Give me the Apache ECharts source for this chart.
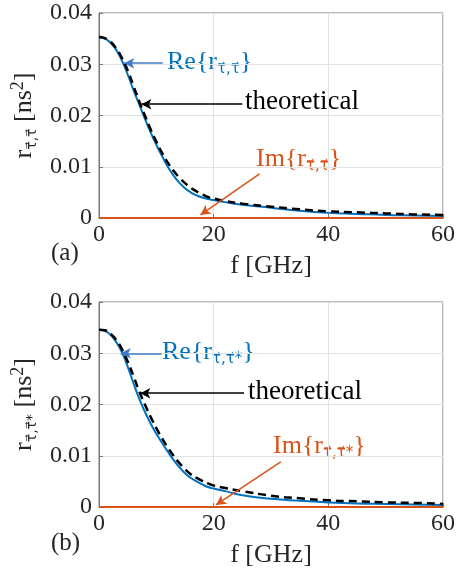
<!DOCTYPE html>
<html>
<head>
<meta charset="utf-8">
<script src="https://cdn.jsdelivr.net/npm/echarts@6/dist/echarts.min.js"></script>
<style>
  html, body { margin: 0; padding: 0; background: #fff; }
  #chart { width: 458px; height: 574px; }
</style>
</head>
<body>
<div id="chart"></div>
<script>
// frequency axis samples [GHz]
const freqs = [0, 1, 2, 3, 4, 5, 6, 7, 8, 9, 10, 11, 12, 13, 14, 15, 16, 17, 18, 19, 20, 22, 25, 30, 35, 40, 45, 50, 55, 60];

// panel (a)
const reA = [0.0352, 0.0350, 0.0342, 0.0328, 0.0307, 0.0280, 0.0250, 0.0222, 0.0194, 0.0167, 0.0143, 0.0121, 0.0100, 0.0083, 0.0069, 0.0058, 0.0050, 0.0044, 0.0040, 0.0037, 0.0035, 0.0031, 0.0026, 0.0020, 0.0014, 0.0010, 0.0008, 0.0006, 0.0005, 0.0004];
const theoA = [0.0353, 0.0351, 0.0344, 0.0331, 0.0312, 0.0288, 0.0258, 0.0228, 0.0200, 0.0173, 0.0149, 0.0127, 0.0108, 0.0092, 0.0079, 0.0068, 0.0059, 0.0052, 0.0046, 0.0041, 0.0038, 0.0033, 0.0028, 0.0022, 0.0017, 0.0013, 0.0011, 0.0009, 0.0007, 0.0006];
const imA = [0, 0, 0, 0, 0, 0, 0, 0, 0, 0, 0, 0, 0, 0, 0, 0, 0, 0, 0, 0, 0, 0, 0, 0, 0, 0, 0, 0, 0, 0];

// panel (b)
const reB = [0.0346, 0.0344, 0.0336, 0.0322, 0.0302, 0.0274, 0.0242, 0.0212, 0.0186, 0.0163, 0.0143, 0.0125, 0.0108, 0.0092, 0.0078, 0.0066, 0.0057, 0.0050, 0.0044, 0.0039, 0.0036, 0.0031, 0.0023, 0.0016, 0.0012, 0.0009, 0.0007, 0.0006, 0.0005, 0.0004];
const theoB = [0.0346, 0.0345, 0.0338, 0.0326, 0.0308, 0.0284, 0.0256, 0.0226, 0.0200, 0.0176, 0.0154, 0.0134, 0.0116, 0.0100, 0.0086, 0.0074, 0.0064, 0.0057, 0.0051, 0.0046, 0.0042, 0.0037, 0.0031, 0.0022, 0.0017, 0.0013, 0.0011, 0.0009, 0.0008, 0.0006];
const imB = [0, 0, 0, 0, 0, 0, 0, 0, 0, 0, 0, 0, 0, 0, 0, 0, 0, 0, 0, 0, 0, 0, 0, 0, 0, 0, 0, 0, 0, 0];

const xTicks = { min: 0, max: 60, interval: 20 };
const yTicks = { min: 0, max: 0.04, interval: 0.01 };

const FONT = "'Liberation Serif', 'Times New Roman', serif";
const SUBFONT = "'DejaVu Sans', sans-serif";
const BLUE = "#0072BD";
const ORANGE = "#D95319";
const TAU = "\u03c4\u20d7";

const pairs = (ys) => freqs.map((f, i) => [f, ys[i]]);

function xAxisFor(idx) {
  return {
    gridIndex: idx, type: "value", ...xTicks,
    name: "f [GHz]", nameLocation: "middle", nameGap: 35,
    nameTextStyle: { fontFamily: FONT, fontSize: 26, color: "#262626" },
    axisLine: { lineStyle: { color: "#777" } },
    axisTick: { inside: true, length: 4, lineStyle: { color: "#777" } },
    axisLabel: { fontFamily: FONT, fontSize: 24, color: "#262626", margin: 5 },
    splitLine: { show: true, lineStyle: { color: "#e3e3e3" } }
  };
}

function yAxisFor(idx, sub) {
  return {
    gridIndex: idx, type: "value", ...yTicks,
    name: "r{s|" + sub + "} [ns{p|2}]", nameLocation: "middle", nameGap: 58, nameRotate: 90,
    nameTextStyle: {
      fontFamily: FONT, fontSize: 26, color: "#262626", lineHeight: 30,
      rich: {
        s: { fontFamily: SUBFONT, fontSize: 14, color: "#262626", lineHeight: 14, verticalAlign: "bottom" },
        p: { fontFamily: FONT, fontSize: 18, color: "#262626", lineHeight: 14, verticalAlign: "top" }
      }
    },
    axisLine: { show: true, lineStyle: { color: "#777" } },
    axisTick: { show: true, inside: true, length: 4, lineStyle: { color: "#777" } },
    axisLabel: { fontFamily: FONT, fontSize: 24, color: "#262626", margin: 7 },
    splitLine: { show: true, lineStyle: { color: "#e3e3e3" } }
  };
}

function arrow(color, from, to) {
  return {
    silent: true, animation: false,
    symbol: ["none", "arrow"], symbolSize: [8, 10],
    lineStyle: { color: color, width: 1.5, type: "solid" },
    label: { show: false },
    data: [[{ coord: from }, { coord: to }]]
  };
}

function panelSeries(idx, re, theo, im, arrows) {
  return [
    { type: "line", xAxisIndex: idx, yAxisIndex: idx, data: pairs(re), smooth: true, showSymbol: false,
      lineStyle: { color: BLUE, width: 2 }, itemStyle: { color: BLUE }, z: 2,
      markLine: arrow("#3f78c9", arrows.re[0], arrows.re[1]) },
    { type: "line", xAxisIndex: idx, yAxisIndex: idx, data: pairs(theo), smooth: true, showSymbol: false,
      lineStyle: { color: "#000", width: 2.5, type: [8, 5] }, itemStyle: { color: "#000" }, z: 3,
      markLine: arrow("#000", arrows.th[0], arrows.th[1]) },
    { type: "line", xAxisIndex: idx, yAxisIndex: idx, data: pairs(im), showSymbol: false,
      lineStyle: { color: ORANGE, width: 2 }, itemStyle: { color: ORANGE }, z: 4,
      markLine: arrow(ORANGE, arrows.im[0], arrows.im[1]) }
  ];
}

function label(left, top, text, color) {
  return {
    type: "text", left: left, top: top,
    style: {
      text: text, fill: color, font: "26px " + FONT, lineHeight: 30,
      rich: { s: { fontFamily: SUBFONT, fontSize: 15, fill: color, lineHeight: 15, verticalAlign: "bottom" } }
    }
  };
}

const chartDom = document.getElementById("chart");
const myChart = echarts.init(chartDom);

const option = {
  animation: false,
  grid: [
    { left: 99, top: 13, width: 345, height: 205, show: true, borderColor: "#777", borderWidth: 1 },
    { left: 99, top: 302, width: 346, height: 205, show: true, borderColor: "#777", borderWidth: 1 }
  ],
  xAxis: [xAxisFor(0), xAxisFor(1)],
  yAxis: [yAxisFor(0, TAU + "," + TAU), yAxisFor(1, TAU + "," + TAU + "*")],
  series: [
    ...panelSeries(0, reA, theoA, imA, {
      re: [[11.1, 0.0302], [4.4, 0.0302]],
      th: [[25.0, 0.0222], [7.4, 0.0222]],
      im: [[28.0, 0.0086], [17.7, 0.0006]]
    }),
    ...panelSeries(1, reB, theoB, imB, {
      re: [[10.9, 0.0300], [3.8, 0.0300]],
      th: [[25.3, 0.0222], [7.2, 0.0222]],
      im: [[31.7, 0.0088], [20.4, 0.0004]]
    })
  ],
  graphic: [
    label(167, 47, "Re{r{s|" + TAU + "," + TAU + "}}", BLUE),
    { type: "text", left: 245, top: 88, style: { text: "theoretical", fill: "#000", font: "27px " + FONT } },
    label(256, 144, "Im{r{s|" + TAU + "," + TAU + "}}", ORANGE),
    { type: "text", left: 51, top: 241, style: { text: "(a)", fill: "#262626", font: "25px " + FONT } },

    label(162, 337, "Re{r{s|" + TAU + "," + TAU + "*}}", BLUE),
    { type: "text", left: 248, top: 378, style: { text: "theoretical", fill: "#000", font: "27px " + FONT } },
    label(273, 431, "Im{r{s|" + TAU + "," + TAU + "*}}", ORANGE),
    { type: "text", left: 51, top: 531, style: { text: "(b)", fill: "#262626", font: "25px " + FONT } }
  ]
};

myChart.setOption(option);
window.addEventListener("resize", () => {
  myChart.resize();
});
</script>
</body>
</html>
